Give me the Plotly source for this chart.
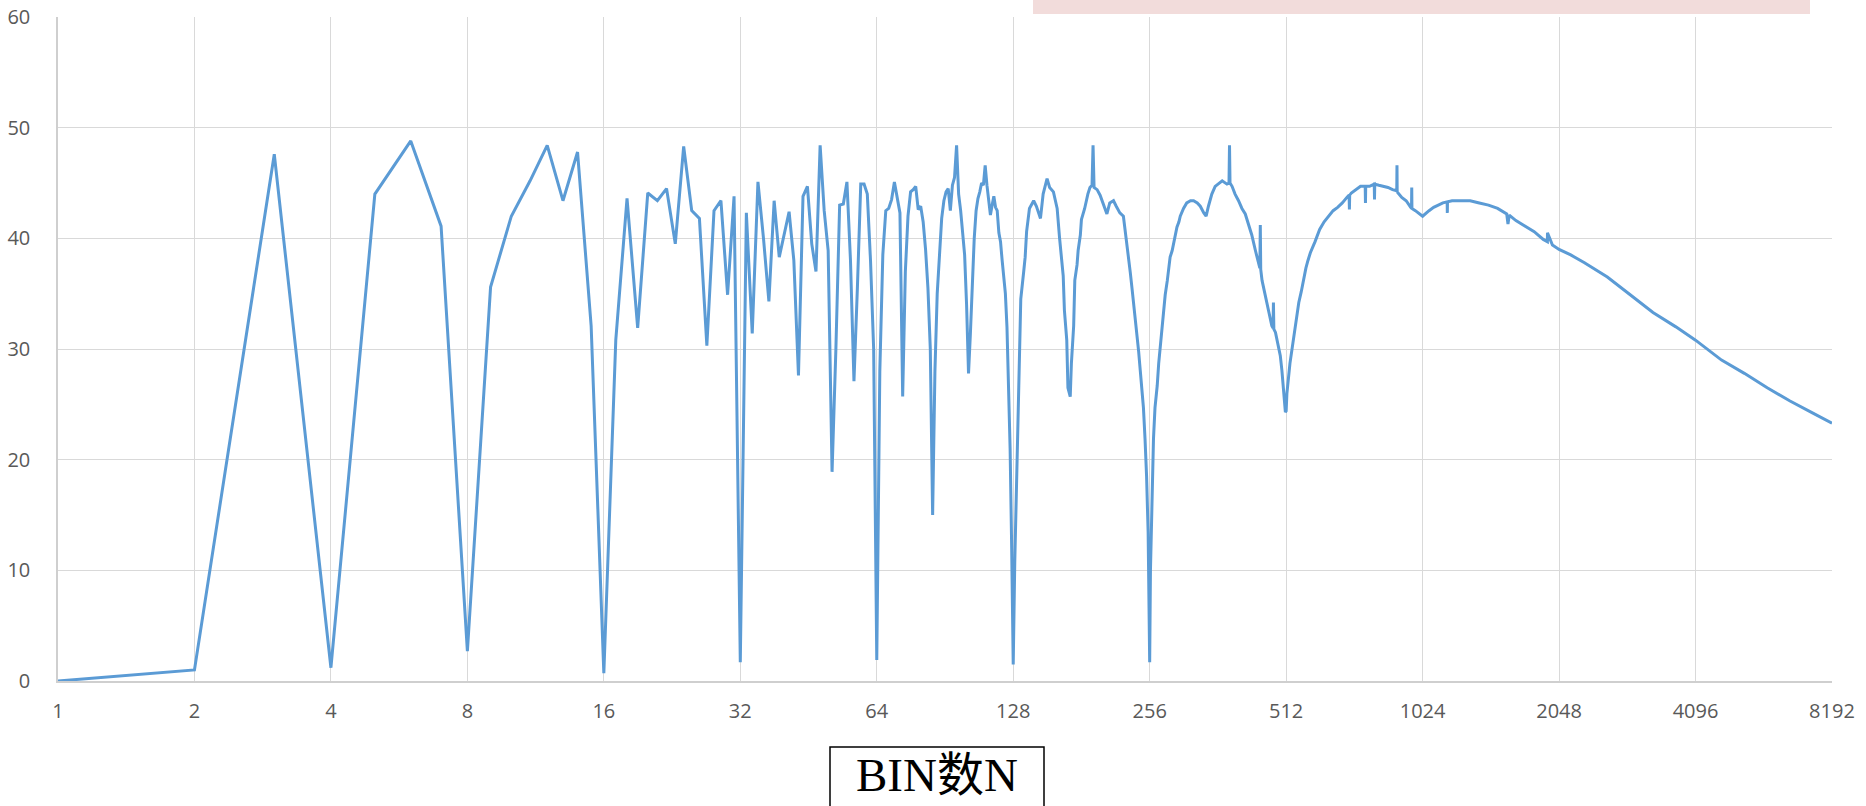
import plotly.graph_objects as go

# ---- data: BIN count N and measured value ----
n_small = list(range(1, 129))
v_small = [
    0.0, 1.0, 47.6, 1.2, 44.0, 48.8, 41.1, 2.7, 35.6, 42.0, 45.2, 48.4, 43.4, 47.8, 32.1, 0.7,   # 1-16
    30.8, 43.6, 31.9, 44.1, 43.4, 44.5, 39.5, 48.3, 42.5, 41.8, 30.3, 42.5, 43.4, 34.9, 43.8, 1.7,  # 17-32
    42.3, 31.4, 45.1, 40.0, 34.3, 43.4, 38.3, 40.5, 42.4, 38.0, 27.6, 43.8, 44.7, 39.5, 37.0, 48.4,  # 33-48
    42.5, 38.9, 18.9, 30.0, 43.0, 43.1, 45.1, 38.0, 27.1, 35.5, 44.9, 44.9, 44.0, 38.0, 30.0, 1.9,   # 49-64
    28.0, 38.5, 42.5, 42.7, 43.5, 45.1, 43.7, 42.3, 25.7, 37.0, 42.0, 44.2, 44.4, 44.7, 42.6, 42.9,  # 65-80
    41.5, 39.0, 35.5, 30.0, 15.0, 28.0, 35.0, 39.0, 41.8, 43.4, 44.2, 44.5, 42.5, 44.8, 45.5, 48.4,  # 81-96
    44.0, 42.5, 40.5, 38.5, 34.0, 27.8, 31.5, 36.0, 40.0, 42.5, 43.6, 44.2, 45.0, 44.8, 46.6, 44.8,  # 97-112
    43.5, 42.1, 43.0, 43.8, 42.8, 42.5, 40.5, 39.7, 38.0, 36.5, 35.0, 32.0, 27.0, 21.0, 12.0, 1.5,   # 113-128
]

n_mid = [
    129, 130, 131, 132, 133, 135, 136, 137, 138, 139, 142, 144, 147, 148, 149, 152, 154, 157, 160, 162,
    164, 165, 166, 168, 169, 171, 172, 174, 175, 177, 178, 180, 181, 183, 184, 187, 189, 191, 192, 193,
    196, 199, 202, 206, 209, 213, 216, 220, 224, 226, 228, 230, 232, 234, 236, 238, 240, 242, 244, 246,
    248, 250, 252, 254, 255, 256,
]
v_mid = [
    10.7, 16.8, 24.0, 31.0, 34.5, 37.0, 38.3, 40.6, 41.7, 42.7, 43.4, 42.9, 41.8, 43.1, 44.0, 45.4, 44.6, 44.2, 42.7, 40.0,
    37.9, 36.6, 33.5, 30.8, 26.5, 25.7, 28.7, 32.1, 36.2, 37.6, 38.9, 40.3, 41.7, 42.3, 42.7, 44.0, 44.6, 44.8, 48.4, 44.6,
    44.4, 43.9, 43.2, 42.2, 43.2, 43.4, 42.9, 42.3, 42.0, 40.8, 39.6, 38.3, 36.9, 35.5, 34.2, 32.8, 31.5, 29.8, 28.1, 26.7,
    24.7, 21.9, 18.5, 13.4, 8.0, 1.7,
]

n_high = [
    257, 259, 261, 263, 266, 268, 270, 273, 275, 277, 280, 282, 284, 287, 289, 292, 294, 297, 299, 304,
    309, 315, 320, 326, 331, 337, 341, 345, 351, 357, 363, 370, 379, 383, 384, 385, 389, 395, 402, 409,
    416, 423, 430, 438, 445, 448, 449, 450, 453, 461, 468, 476, 479, 480, 481, 485, 493, 497, 501, 505,
    510, 512, 514, 522, 528, 534, 540, 546, 553, 559, 566, 572, 579, 593, 607, 621, 635, 650, 665, 681,
    697, 705, 706, 707, 713, 730, 747, 765, 766, 767, 782, 801, 802, 803, 820, 839, 859, 879, 898, 899,
    900, 921, 942, 964, 968, 969, 970, 987, 1010, 1024, 1058, 1083, 1109, 1135, 1160, 1161, 1162, 1189, 1245, 1304,
    1366, 1431, 1499, 1570, 1580, 1590, 1645, 1723, 1805, 1890, 1930, 1931, 1980, 2048, 2173, 2330, 2617, 2939, 3300, 3707,
    4096, 4675, 5249, 5895, 6620, 7435, 8192,
]
v_high = [
    10.0, 16.8, 21.9, 24.7, 26.7, 28.7, 30.1, 32.1, 33.5, 34.9, 36.2, 37.2, 38.3, 38.9, 39.6, 40.3, 41.0, 41.5, 42.0, 42.7,
    43.2, 43.4, 43.4, 43.2, 42.9, 42.3, 42.0, 42.9, 44.0, 44.7, 44.9, 45.2, 44.9, 45.0, 48.4, 45.0, 44.7, 44.0, 43.4, 42.7,
    42.2, 41.3, 40.3, 38.9, 37.6, 37.3, 41.2, 37.2, 36.2, 34.9, 33.5, 32.1, 31.9, 34.2, 31.8, 31.5, 30.1, 29.4, 28.1, 26.0,
    24.3, 24.4, 26.0, 28.7, 30.1, 31.8, 32.8, 34.2, 35.2, 36.3, 37.3, 38.0, 38.7, 39.7, 40.8, 41.5, 42.0, 42.5, 42.8, 43.2,
    43.7, 43.9, 42.6, 43.9, 44.1, 44.4, 44.7, 44.7, 43.2, 44.7, 44.7, 44.9, 43.5, 44.9, 44.8, 44.7, 44.6, 44.4, 44.3, 46.6,
    44.2, 43.7, 43.4, 42.8, 42.7, 44.6, 42.7, 42.5, 42.2, 42.0, 42.5, 42.8, 43.0, 43.2, 43.3, 42.3, 43.3, 43.4, 43.4, 43.4,
    43.2, 43.0, 42.7, 42.2, 41.3, 42.1, 41.6, 41.1, 40.6, 39.9, 39.7, 40.5, 39.4, 39.0, 38.5, 37.8, 36.5, 34.9, 33.3, 32.0,
    30.8, 29.0, 27.8, 26.5, 25.3, 24.2, 23.3,
]

bin_n = n_small + n_mid + n_high
values = v_small + v_mid + v_high

tick_vals = [1, 2, 4, 8, 16, 32, 64, 128, 256, 512, 1024, 2048, 4096, 8192]
tick_text = [str(t) for t in tick_vals]
y_ticks = [0, 10, 20, 30, 40, 50, 60]
x_title = "BIN数N"

# ---- layout geometry (pixels) ----
W, H = 1866, 806
L, R, T, B = 58, 34, 17, 125
PW, PH = W - L - R, H - T - B


def px_x(px):
    return (px - L) / PW


def px_y(py):
    return (H - B - py) / PH


fig = go.Figure()
fig.add_trace(go.Scatter(
    x=bin_n, y=values, mode="lines",
    line=dict(color="#5B9BD5", width=3),
    hoverinfo="skip", showlegend=False,
))

grid = "#D9D9D9"
tick_font = dict(family="Open Sans, DejaVu Sans, sans-serif", size=20, color="#595959")

fig.update_xaxes(
    type="log", range=[0, 3.913417], tickmode="array",
    tickvals=tick_vals, ticktext=tick_text,
    showgrid=True, gridcolor=grid, gridwidth=1,
    showline=True, linecolor="#CFCFCF", linewidth=2,
    zeroline=False, ticks="", ticklabelstandoff=11,
    automargin=False, tickfont=tick_font,
)
fig.update_yaxes(
    range=[0, 60], tickvals=y_ticks,
    showgrid=True, gridcolor=grid, gridwidth=1,
    showline=True, linecolor="#CFCFCF", linewidth=1.5,
    zeroline=False, ticks="", ticklabelstandoff=22,
    automargin=False, tickfont=tick_font,
)

shapes = [
    # pink banner strip across the top edge
    dict(type="rect", xref="paper", yref="paper",
         x0=px_x(1033), x1=px_x(1810), y0=px_y(14), y1=px_y(-6),
         fillcolor="#F2DCDB", line=dict(width=0), layer="below"),
    # framed axis caption
    dict(type="rect", xref="paper", yref="paper",
         x0=px_x(830), x1=px_x(1044), y0=px_y(747), y1=px_y(830),
         fillcolor="rgba(0,0,0,0)", line=dict(color="#000000", width=1.5)),
]

annotations = [
    dict(text=x_title, xref="paper", yref="paper",
         x=px_x(937), y=px_y(775), xanchor="center", yanchor="middle",
         showarrow=False,
         font=dict(family="Liberation Serif, Times New Roman, Noto Sans CJK SC, serif",
                   size=47, color="#000000")),
]

fig.update_layout(
    width=W, height=H, autosize=False,
    margin=dict(l=L, r=R, t=T, b=B, pad=0, autoexpand=False),
    paper_bgcolor="#FFFFFF", plot_bgcolor="#FFFFFF",
    shapes=shapes, annotations=annotations,
    showlegend=False,
)

fig.write_html("out.html", config={"displayModeBar": False})
